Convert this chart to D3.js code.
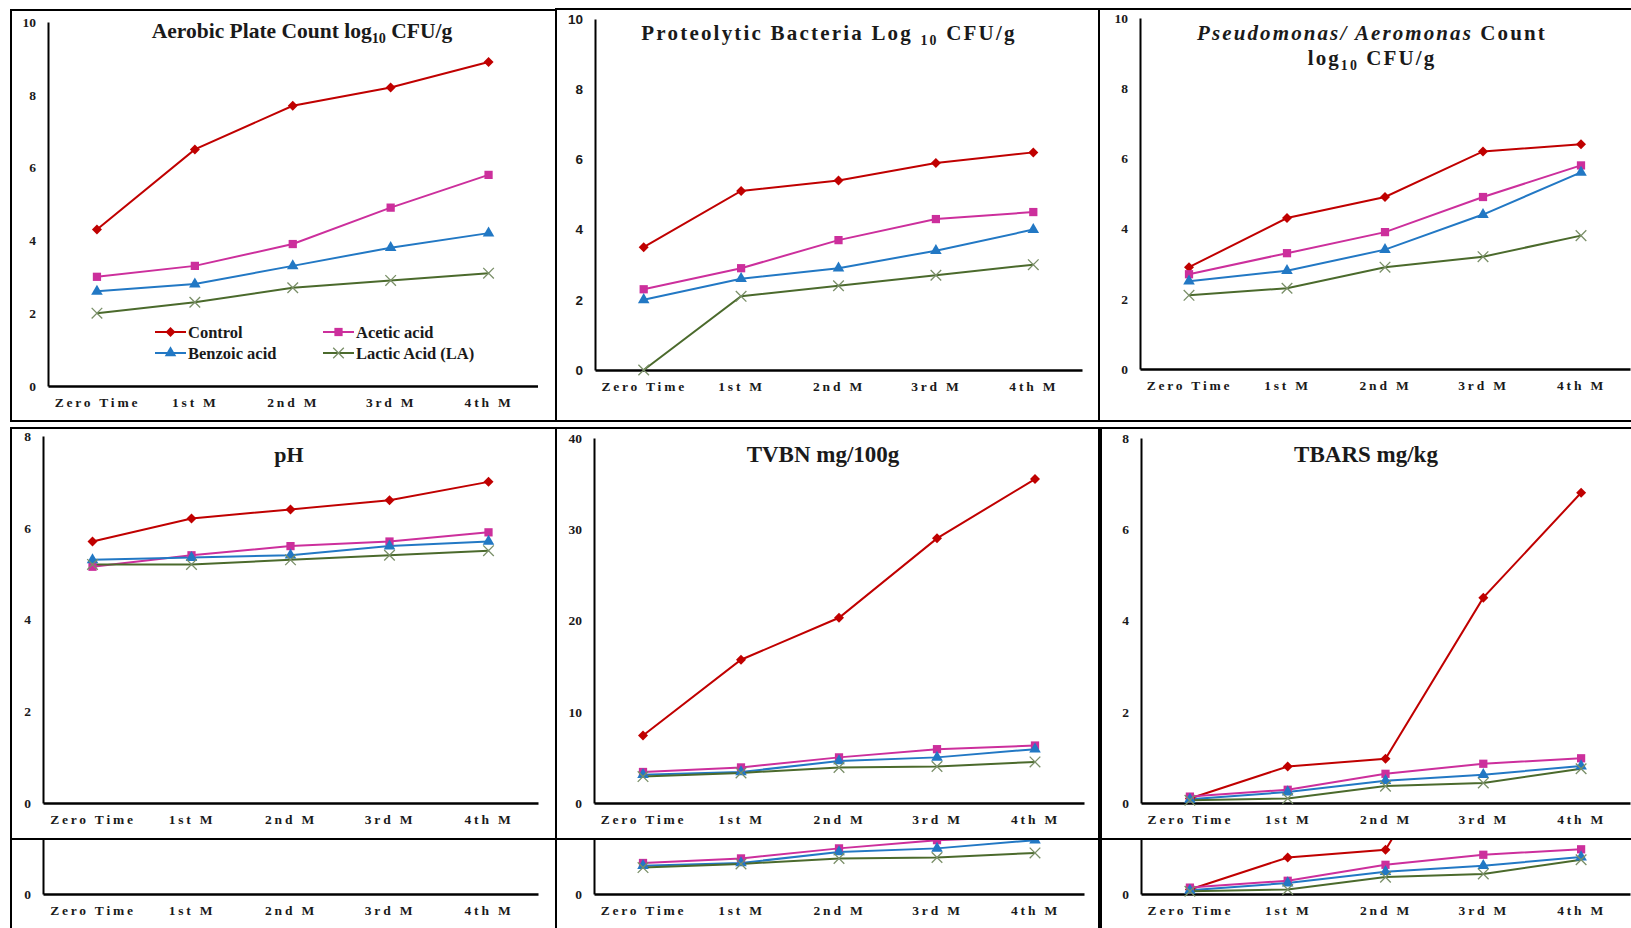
<!DOCTYPE html>
<html>
<head>
<meta charset="utf-8">
<script src="https://cdn.jsdelivr.net/npm/d3@7"></script>
<style>
body{margin:0;background:#fff;}
svg{display:block;}
text{font-family:"Liberation Serif","Times New Roman",serif;font-weight:bold;fill:#1a1a1a;}
</style>
</head>
<body>
<svg></svg>
<script>
const W = 1631, H = 928;

// storage months and treatments
const months = ['Zero Time', '1st M', '2nd M', '3rd M', '4th M'];
const treatments = ['Control', 'Acetic acid', 'Benzoic acid', 'Lactic Acid (LA)'];

// one row per treatment, same order as above
const aerobicPlateCount = [
    [4.3, 6.5, 7.7, 8.2, 8.9],
    [3.0, 3.3, 3.9, 4.9, 5.8],
    [2.6, 2.8, 3.3, 3.8, 4.2],
    [2.0, 2.3, 2.7, 2.9, 3.1]
];
const proteolyticBacteria = [
    [3.5, 5.1, 5.4, 5.9, 6.2],
    [2.3, 2.9, 3.7, 4.3, 4.5],
    [2.0, 2.6, 2.9, 3.4, 4.0],
    [0.0, 2.1, 2.4, 2.7, 3.0]
];
const pseudomonasCount = [
    [2.9, 4.3, 4.9, 6.2, 6.4],
    [2.7, 3.3, 3.9, 4.9, 5.8],
    [2.5, 2.8, 3.4, 4.4, 5.6],
    [2.1, 2.3, 2.9, 3.2, 3.8]
];
const phValues = [
    [5.7, 6.2, 6.4, 6.6, 7.0],
    [5.15, 5.4, 5.6, 5.7, 5.9],
    [5.3, 5.35, 5.4, 5.6, 5.7],
    [5.2, 5.2, 5.3, 5.4, 5.5]
];
const tvbnValues = [
    [7.4, 15.7, 20.3, 29.0, 35.5],
    [3.4, 3.9, 5.0, 5.9, 6.3],
    [3.1, 3.4, 4.6, 5.0, 5.9],
    [2.9, 3.3, 3.9, 4.0, 4.5]
];
const tbarsValues = [
    [0.1, 0.8, 0.97, 4.5, 6.8],
    [0.14, 0.29, 0.64, 0.86, 0.98],
    [0.08, 0.24, 0.49, 0.62, 0.81],
    [0.06, 0.1, 0.37, 0.44, 0.75]
];

const logTicks = [0, 2, 4, 6, 8, 10];
const phTicks = [0, 2, 4, 6, 8];
const tvbnTicks = [0, 10, 20, 30, 40];
const tbarsTicks = [0, 2, 4, 6, 8];

const lineColors = ['#c00000', '#cc2f9c', '#2278c4', '#4b6a2c'];
const markerFill = ['#c00000', '#cc2f9c', '#2278c4', 'none'];
const markerStroke = ['none', 'none', 'none', '#7a8f68'];

const svg = d3.select('svg').attr('width', W).attr('height', H);

const panels = [
    {data: aerobicPlateCount, ticks: logTicks, box: [11, 10, 556, 421],
        axisX: 48, top: 22, bottom: 386, right: 537.5, sansTicks: false, legend: true,
        title: [[{t: 'Aerobic Plate Count log'}, {t: '10', sub: true}, {t: ' CFU/g'}]],
        titleX: 302, titleY: [38], titleSize: 21.5, titleSpacing: 0},
    {data: proteolyticBacteria, ticks: logTicks, box: [556, 9, 1099, 421],
        axisX: 595, top: 19, bottom: 370, right: 1082, sansTicks: true,
        title: [[{t: 'Proteolytic Bacteria  Log '}, {t: '10', sub: true}, {t: ' CFU/g'}]],
        titleX: 829, titleY: [40], titleSize: 21, titleSpacing: 2.2},
    {data: pseudomonasCount, ticks: logTicks, box: [1099, 9, 1650, 421],
        axisX: 1140, top: 18, bottom: 369, right: 1630, sansTicks: false,
        title: [[{t: 'Pseudomonas/ Aeromonas', it: true}, {t: ' Count'}],
                [{t: 'log'}, {t: '10', sub: true}, {t: ' CFU/g'}]],
        titleX: 1372, titleY: [40, 65], titleSize: 21, titleSpacing: 2.1},
    {data: phValues, ticks: phTicks, box: [11, 428, 556, 839],
        axisX: 43, top: 436, bottom: 803, right: 538, sansTicks: false,
        title: [[{t: 'pH'}]], titleX: 289, titleY: [462], titleSize: 22, titleSpacing: 0},
    {data: tvbnValues, ticks: tvbnTicks, box: [556, 428, 1099, 839],
        axisX: 594, top: 438, bottom: 803, right: 1084, sansTicks: false,
        title: [[{t: 'TVBN mg/100g'}]], titleX: 823, titleY: [462], titleSize: 23, titleSpacing: 0},
    {data: tbarsValues, ticks: tbarsTicks, box: [1101, 428, 1650, 839],
        axisX: 1141, top: 438, bottom: 803, right: 1630, sansTicks: false,
        title: [[{t: 'TBARS mg/kg'}]], titleX: 1366, titleY: [462], titleSize: 23, titleSpacing: 0}
];

panels.forEach(p => drawPanel(svg.append('g'), p));

// the lower strip repeats the bottom of the second row
svg.append('defs').append('clipPath').attr('id', 'stripClip')
    .append('rect').attr('x', 0).attr('y', 840).attr('width', W).attr('height', H - 840);
const strip = svg.append('g').attr('clip-path', 'url(#stripClip)')
    .append('g').attr('transform', 'translate(0,91)');
panels.slice(3).forEach(p => drawPanel(strip.append('g'), p));
// texts that end up above the strip are hidden by the clip anyway
strip.selectAll('text').each(function(){
    if (this.getBoundingClientRect().bottom < 840) d3.select(this).remove();
});


function marker(i) {
    if (i === 0) return d3.symbol(d3.symbolSquare, 50)();
    if (i === 1) return d3.symbol(d3.symbolSquare, 68)();
    if (i === 2) return d3.symbol(d3.symbolTriangle, 58)();
    return d3.symbol(d3.symbolTimes, 75)();
}

function drawMarkers(g, pts, i) {
    g.append('g')
        .selectAll('path')
        .data(pts)
        .enter()
        .append('path')
        .attr('d', marker(i))
        .attr('transform', d => `translate(${d[0]},${d[1]})` + (i === 0 ? ' rotate(45)' : ''))
        .attr('fill', markerFill[i])
        .attr('stroke', markerStroke[i])
        .attr('stroke-width', 1.3);
}

function drawPanel(g, p) {
    const b = p.box;
    g.append('rect')
        .attr('x', b[0]).attr('y', b[1])
        .attr('width', b[2] - b[0]).attr('height', b[3] - b[1])
        .attr('fill', 'none').attr('stroke', '#000').attr('stroke-width', 2);

    const x = d3.scalePoint().domain(months).range([p.axisX, p.right]).padding(0.5);
    const y = d3.scaleLinear().domain([0, d3.max(p.ticks)]).range([p.bottom, p.top]);

    const yAxis = g.append('g')
        .attr('transform', `translate(${p.axisX},0)`)
        .call(d3.axisLeft(y).tickValues(p.ticks).tickSize(0).tickPadding(12));
    yAxis.select('.domain').attr('stroke', '#000').attr('stroke-width', 2);
    yAxis.selectAll('text')
        .style('font-size', '13.5px')
        .style('font-family', p.sansTicks ? '"Liberation Sans", Arial, sans-serif' : null)
        .style('fill', '#1a1a1a');

    const xAxis = g.append('g')
        .attr('transform', `translate(0,${p.bottom})`)
        .call(d3.axisBottom(x).tickSize(0).tickPadding(11));
    xAxis.select('.domain').attr('stroke', '#000').attr('stroke-width', 2.5);
    xAxis.selectAll('text')
        .style('font-size', '13.5px')
        .style('letter-spacing', '2.8px')
        .style('fill', '#1a1a1a');

    // title
    p.title.forEach((parts, li) => {
        const t = g.append('text')
            .attr('x', p.titleX).attr('y', p.titleY[li])
            .attr('text-anchor', 'middle')
            .style('font-size', p.titleSize + 'px')
            .style('letter-spacing', p.titleSpacing + 'px');
        let shifted = false;
        parts.forEach(s => {
            const ts = t.append('tspan').text(s.t);
            if (s.it) ts.style('font-style', 'italic');
            if (s.sub) {
                ts.style('font-size', (p.titleSize * 0.66) + 'px').attr('dy', 5);
                shifted = true;
            } else if (shifted) {
                ts.attr('dy', -5);
                shifted = false;
            }
        });
    });

    const line = d3.line()
        .x((d, i) => x(months[i]))
        .y(d => y(d));

    p.data.forEach((series, i) => {
        g.append('path')
            .attr('d', line(series))
            .attr('fill', 'none')
            .attr('stroke', lineColors[i])
            .attr('stroke-width', 2);
    });
    p.data.forEach((series, i) => {
        drawMarkers(g, series.map((v, j) => [x(months[j]), y(v)]), i);
    });

    if (p.legend) drawLegend(g);
}

function drawLegend(g) {
    const cols = [155, 323];
    const rows = [332, 353];
    treatments.forEach((name, i) => {
        const lx = cols[i % 2], ly = rows[Math.floor(i / 2)];
        g.append('line')
            .attr('x1', lx).attr('x2', lx + 31)
            .attr('y1', ly).attr('y2', ly)
            .attr('stroke', lineColors[i]).attr('stroke-width', 2);
        drawMarkers(g, [[lx + 15.5, ly]], i);
        g.append('text')
            .attr('x', lx + 33).attr('y', ly + 5.5)
            .style('font-size', '16.5px')
            .text(name);
    });
}
</script>
</body>
</html>
